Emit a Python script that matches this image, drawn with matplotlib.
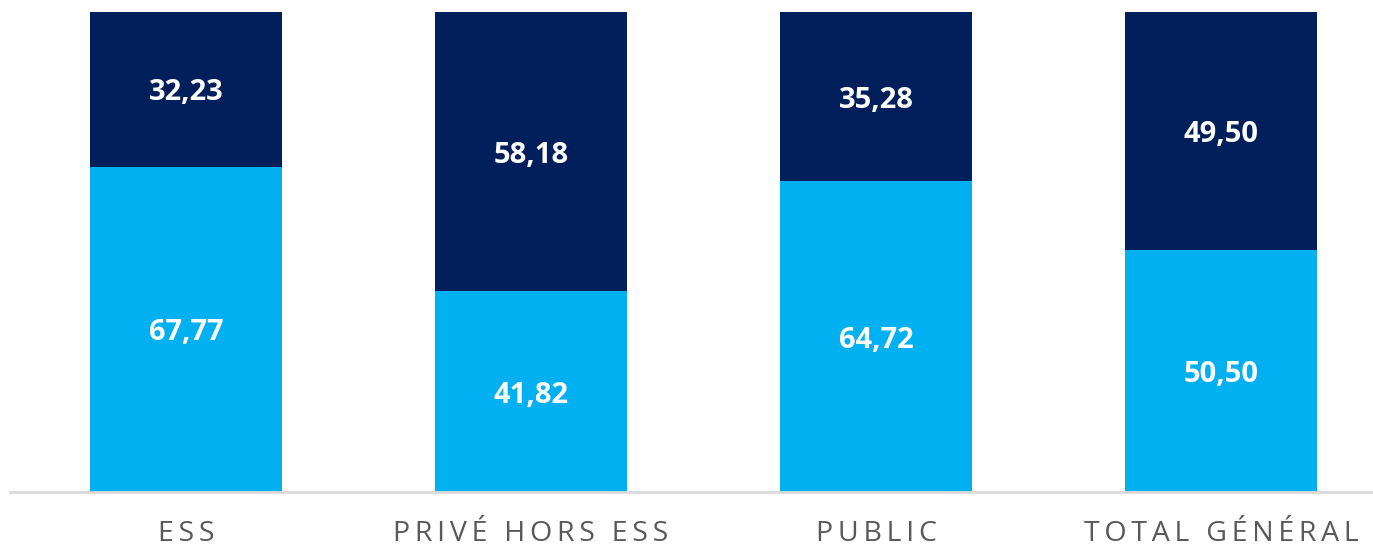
import matplotlib.pyplot as plt
import numpy as np

categories = ['ESS', 'PRIVÉ HORS ESS', 'PUBLIC', 'TOTAL GÉNÉRAL']
bas = [67.77, 41.82, 64.72, 50.50]    # bleu clair
haut = [32.23, 58.18, 35.28, 49.50]   # bleu foncé

plt.rcParams['font.family'] = ['Open Sans', 'DejaVu Sans']

fig = plt.figure(figsize=(13.73, 5.49), dpi=100)
ax = fig.add_axes([10 / 1373, 57 / 549, 1 - 10 / 1373, 480 / 549])

x = np.arange(len(categories))
w = 0.557
b1 = ax.bar(x, bas, w, color='#00b0f0')
b2 = ax.bar(x, haut, w, bottom=bas, color='#001f5b')

for i in range(len(categories)):
    ax.text(x[i], bas[i] / 2, f'{bas[i]:.2f}'.replace('.', ','), ha='center', va='center_baseline',
            color='white', fontsize=21, fontweight='bold')
    ax.text(x[i], bas[i] + haut[i] / 2, f'{haut[i]:.2f}'.replace('.', ','), ha='center',
            va='center_baseline', color='white', fontsize=21, fontweight='bold')

ax.set_xlim(-0.51, 3.44)
ax.set_ylim(0, 100)
ax.set_yticks([])
ax.set_xticks(x)
# espacement des lettres
ax.set_xticklabels(['\u2009'.join(c) for c in categories], fontsize=20.5, color='#595959')
ax.tick_params(axis='x', length=0, pad=20)
for s in ['top', 'right', 'left']:
    ax.spines[s].set_visible(False)
ax.spines['bottom'].set_color('#d9d9d9')
ax.spines['bottom'].set_linewidth(2)

fig.savefig('out.png', dpi=100)
